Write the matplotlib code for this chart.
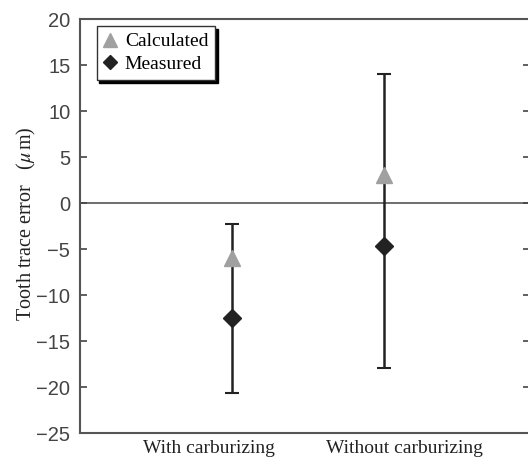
"""Tooth trace error with and without carburizing: calculated vs measured."""

import matplotlib.pyplot as plt

plt.rcParams["mathtext.fontset"] = "stix"

# Data
conditions = ["With carburizing", "Without carburizing"]
calculated = [-6.0, 3.0]
measured = [-12.5, -4.7]
range_low = [-20.6, -17.9]
range_high = [-2.3, 14.0]

x = [1, 2]
label_pos = [0.85, 2.13]

fig = plt.figure(figsize=(5.28, 4.61), dpi=100)
ax = fig.add_axes([0.1515, 0.0607, 0.853, 0.898])

# zero reference line
ax.axhline(0, color="#555555", lw=1.2, zorder=1)

# measurement range bars
ax.errorbar(x, measured,
            yerr=[[m - lo for m, lo in zip(measured, range_low)],
                  [hi - m for m, hi in zip(measured, range_high)]],
            fmt="none", ecolor="#222222", elinewidth=1.8, capsize=5, capthick=1.5,
            zorder=2)

ax.plot(x, calculated, linestyle="none", marker="^", markersize=12,
        color="#a0a0a0", label="Calculated", zorder=3)
ax.plot(x, measured, linestyle="none", marker="D", markersize=9,
        color="#222222", label="Measured", zorder=3)

ax.set_xlim(0, 2.96)
ax.set_ylim(-25, 20)
ax.set_yticks(range(-25, 21, 5))
ax.set_yticklabels([str(v).replace("-", "\u2212") for v in range(-25, 21, 5)],
                   family="Liberation Sans")
ax.set_xticks(label_pos)
ax.set_xticklabels(conditions, family="Liberation Serif", fontsize=14,
                   color="#222222")
ax.tick_params(axis="x", length=0, pad=5)
ax.tick_params(axis="y", direction="in", length=5, width=1.2, left=True,
               right=True, labelsize=14.5, labelcolor="#444444", color="#444444",
               pad=7)

for side in ["left", "top", "bottom", "right"]:
    ax.spines[side].set_color("#555555")
    ax.spines[side].set_linewidth(1.5)

ax.set_ylabel(r"Tooth trace error   ($\mu\,$m)", family="Liberation Serif",
              fontsize=14.5, color="#222222", labelpad=0)
ax.yaxis.set_label_coords(-0.093, 0.505)

leg = ax.legend(loc="upper left", bbox_to_anchor=(0.037, 0.983),
                fancybox=False, shadow={"color": "black", "alpha": 1.0},
                framealpha=1, edgecolor="#333333",
                prop={"family": "Liberation Serif", "size": 14},
                handlelength=0.7, handletextpad=0.4, borderpad=0.35,
                labelspacing=0.25, borderaxespad=0, markerscale=0.8)
leg.get_frame().set_linewidth(1.0)

plt.savefig("out.png", dpi=100)
